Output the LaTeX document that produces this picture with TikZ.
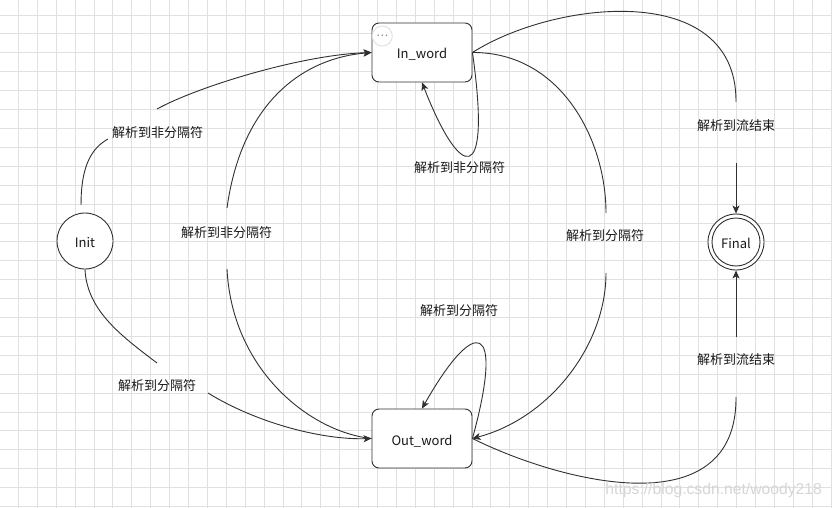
\documentclass[tikz,border=0pt]{standalone}
\usepackage{fontspec}
\setmainfont{Noto Sans CJK SC}
\newfontfamily\wmfont{Liberation Sans}
\usetikzlibrary{arrows.meta}
\definecolor{gridc}{HTML}{E0E0E0}
\definecolor{linec}{HTML}{303030}
\begin{document}
\begin{tikzpicture}[x=1pt,y=-1pt,
  every node/.style={font=\fontsize{13pt}{15pt}\selectfont, text=black!90},
  edge/.style={draw=linec, line width=0.9pt},
  arr/.style={edge, -{Stealth[length=8pt,width=7pt,inset=2pt]}},
  lbl/.style={inner sep=0pt},
  gridline/.style={draw=gridc, line width=0.8pt},
  state/.style={circle, draw=linec, fill=white, line width=0.9pt, minimum size=56pt, inner sep=0pt, text height=13pt, text depth=0pt},
  box/.style={rounded corners=7pt, draw=linec, fill=white, line width=0.9pt, minimum width=100pt, minimum height=59pt, inner sep=0pt, text height=13pt, text depth=0pt}]
\fill[white] (0,0) rectangle (832,508);
\useasboundingbox (0,0) rectangle (832,508);
% grid
\foreach \i in {0,...,43} \draw[gridline] ({18.3+\i*18.9},0) -- ++(0,508);
\foreach \j in {0,...,26} \draw[gridline] (0,{15+\j*18.9}) -- ++(832,0);

% nodes
\node[state] (init) at (85,241) {Init};
\node[box] (inw) at (422,52.5) {In\_word};
\node[box] (outw) at (422,438.5) {Out\_word};
\node[state] (final) at (736,242) {Final};
\draw[edge] (final.center) circle (24pt);
\node[circle, draw=black!12, line width=0.9pt, minimum size=20pt, inner sep=0pt] (icon) at (382.3,36) {};
\foreach \dx in {-4.2,0,4.2} \fill[black!45] ([xshift=\dx pt, yshift=0.8pt]icon.center) circle (0.9pt);

% gap coordinates
\coordinate (a2) at (108,139);
\coordinate (a3) at (157,109);
\coordinate (b1) at (157,363);
\coordinate (b2) at (208,393);
\coordinate (c1) at (227,269);
\coordinate (c2) at (227,208);
\coordinate (d1) at (606,213);
\coordinate (d2) at (606,273);
\coordinate (e1) at (736,102);
\coordinate (e2) at (736,163);
\coordinate (f1) at (736,397);
\coordinate (f2) at (736,337);

% Init -> In_word
\draw[edge, shorten <=8pt] (init.98) .. controls (81,165) and (92,148) .. (a2);
\draw[arr] (a3) .. controls (197,87) and (300,55) .. (inw.west);
% Init -> Out_word
\draw[edge] (init.south) .. controls (87,310) and (120,335) .. (b1);
\draw[arr] (b2) .. controls (255,422) and (320,440) .. (outw.west);
% Out_word -> In_word (left arc)
\draw[edge] (outw.west) .. controls (310,432) and (232,370) .. (c1);
\draw[arr] (c2) .. controls (242,100) and (305,58) .. (inw.west);
% In_word self loop
\draw[arr] (inw.east) .. controls (492,190) and (460,180) .. (inw.south);
% Out_word self loop
\draw[arr] (outw.east) .. controls (505,320) and (475,315) .. (outw.north);
% In_word -> Out_word (right arc)
\draw[edge] (inw.east) .. controls (561,52) and (606,140) .. (d1);
\draw[arr] (d2) .. controls (606,345) and (550,418) .. (outw.east);
% In_word -> Final
\draw[edge] (inw.east) .. controls (555,0) and (737,-20) .. (e1);
\draw[arr] (e2) -- (final.north);
% Out_word -> Final
\draw[edge] (outw.east) .. controls (560,482) and (737,528) .. (f1);
\draw[arr] (f2) -- (final.south);

% labels
\node[lbl] (l1) at (157.5,132.5) {解析到非分隔符};
\node[lbl] (l2) at (226.7,232.5) {解析到非分隔符};
\node[lbl] (l3) at (459.5,167.5) {解析到非分隔符};
\node[lbl] (l4) at (459,310.5) {解析到分隔符};
\node[lbl] (l5) at (605,236) {解析到分隔符};
\node[lbl] (l6) at (157,386) {解析到分隔符};
\node[lbl] (l7) at (736,126) {解析到流结束};
\node[lbl] (l8) at (736,359.5) {解析到流结束};

% watermark
\node[lbl, font=\wmfont\fontsize{15.7pt}{16pt}\selectfont, text=black!16] (wm) at (713.7,490) {https://blog.csdn.net/woody218};
\end{tikzpicture}
\end{document}
